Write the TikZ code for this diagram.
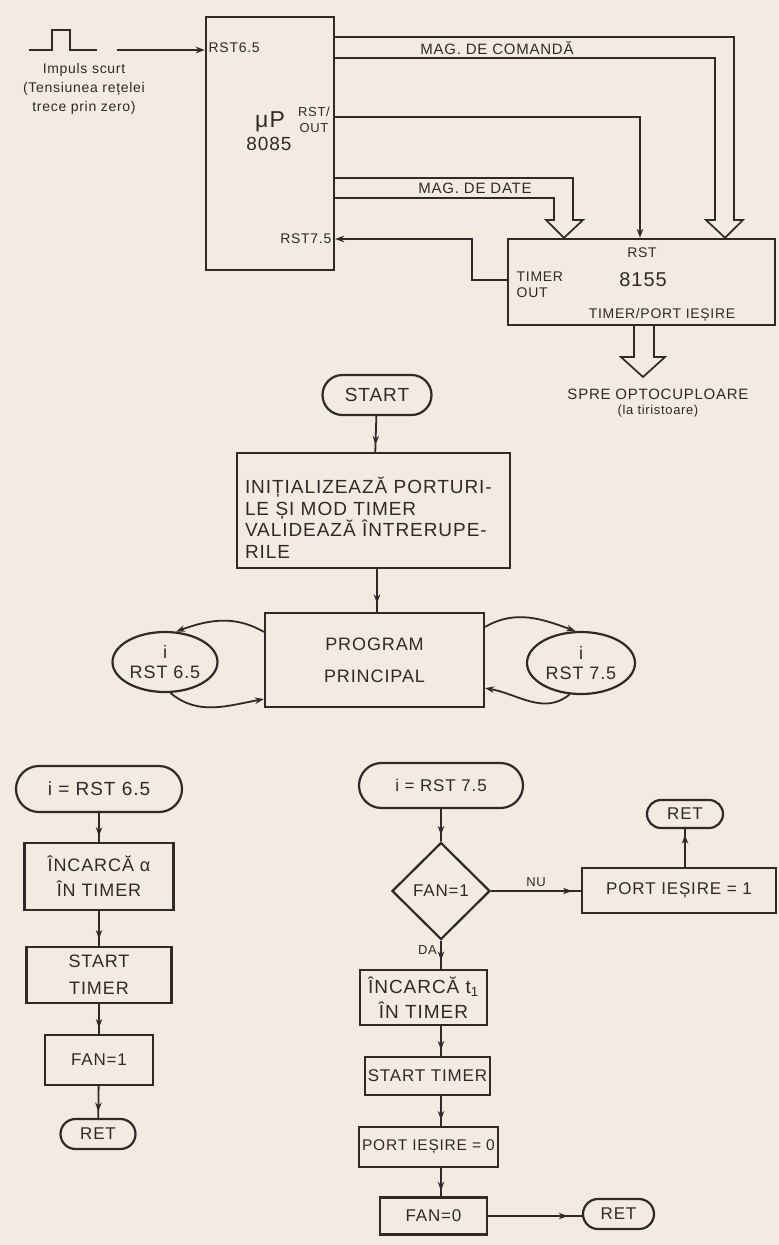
\documentclass[tikz,border=0pt]{standalone}
\usepackage{fontspec}
\setsansfont{Liberation Sans}[LetterSpace=5]
\usetikzlibrary{arrows.meta,shapes.geometric,shapes.misc,decorations.markings,calc}
\definecolor{ink}{RGB}{48,41,39}
\definecolor{paper}{RGB}{243,234,225}
\newcommand{\flowsize}[2]{\sffamily\fontsize{#1}{#2}\selectfont}
\tikzset{
  box/.style={draw, rectangle, line width=2.2pt, inner sep=3pt, align=center, font={\flowsize{17}{21}}},
  term/.style={draw, rounded rectangle, line width=2.2pt, inner sep=3pt, align=center, font={\flowsize{17}{21}}},
  decision/.style={draw, diamond, line width=2.2pt, inner sep=0pt, align=center, font={\flowsize{17}{21}}},
  irq/.style={draw, ellipse, line width=2.2pt, inner sep=0pt, align=center, font={\flowsize{18}{20}}},
  pinlbl/.style={inner sep=3pt, align=center, font={\flowsize{14}{16}}},
  bus/.style={line width=1.7pt, line join=miter},
  flow/.style={line width=1.8pt, postaction={decorate},
    decoration={markings, mark=at position #1 with {\arrow{Stealth[length=9pt,width=6.5pt]}}}},
  flow/.default=0.8
}

\begin{document}
\begin{tikzpicture}[x=1pt,y=-1pt,color=ink,line width=1.8pt,>={Stealth[length=9pt,width=6.5pt]}]
  % paper
  \fill[paper] (0,0) rectangle (779,1245);
  \useasboundingbox (0,0) rectangle (779,1245);

  % microprocessor and 8155
  \node[draw,line width=2.4pt,minimum width=128pt,minimum height=253pt] (mup) at (270,143.5) {};
  \node[draw,line width=2.4pt,minimum width=267pt,minimum height=86pt] (tio) at (641.5,282) {};
  \node[pinlbl,anchor=west] (pinsix) at (mup.west |- 0,48) {RST6.5};
  \node[pinlbl,anchor=east] (pinseven) at (mup.east |- 0,239) {RST7.5};
  \node[pinlbl,font={\flowsize{13}{16}}] (pinout) at (314,120) {RST/\\OUT};
  \node[font={\flowsize{23}{26}}] (mupname) at (270,122) {μP};
  \node[font={\flowsize{19}{22}}] (muptype) at (269,144) {8085};
  \node[pinlbl] (rsttio) at (642,253) {RST};
  \node[font={\flowsize{20}{24}}] (tiotype) at (643,280) {8155};
  \node[pinlbl,anchor=west,align=left,xshift=6pt] (timerout) at (tio.west |- 0,285) {TIMER\\OUT};
  \node[pinlbl] (tiorole) at (662,315) {TIMER/PORT IEȘIRE};

  % input pulse
  \draw[line width=2pt] (29,50) -- (52,50) -- (52,30) -- (70,30) -- (70,50) -- (97,50);
  \node[font={\flowsize{14}{19}},align=center] (pulsetxt) at (84,89) {Impuls scurt\\(Tensiunea rețelei\\trece prin zero)};
  \coordinate (pulse) at (117,50);
  \draw[->] (pulse) -- (mup.west |- pulse);

  % buses
  \draw[bus] (mup.east |- 0,37) -- (734,37) -- (734,220) -- (743,220) -- (tio.north -| 725,0)
    -- (706,220) -- (715,220) -- (715,58) -- (mup.east |- 0,58);
  \node[pinlbl,font={\flowsize{15}{18}}] (cmdbus) at (497,48) {MAG. DE COMANDĂ};
  \draw[bus] (mup.east |- 0,178) -- (573,178) -- (573,220) -- (583,220) -- (tio.north -| 564,0)
    -- (546,220) -- (554,220) -- (554,198) -- (mup.east |- 0,198);
  \node[pinlbl,font={\flowsize{15}{18}}] (databus) at (475,188) {MAG. DE DATE};
  \draw[->,line width=2.6pt] (mup.east |- 0,117) -| (tio.north -| 640,0);
  \draw[->,line width=2.4pt] (tio.west |- 0,280) -- (472,280) -- (472,239) -- (mup.east |- 0,239);

  % output bus
  \draw[bus] (tio.south -| 634,0) -- (634,357) -- (621,357) -- (643,377) -- (665,357) -- (654,357) -- (tio.south -| 654,0);
  \node[pinlbl,font={\flowsize{15}{18}}] (opto) at (658,394) {SPRE OPTOCUPLOARE};
  \node[pinlbl,font={\flowsize{13}{16}}] (tiristor) at (658,411) {(la tiristoare)};

  % main program
  \node[term,font={\flowsize{19}{22}},minimum width=115pt,minimum height=40pt] (start) at (377,395) {START};
  \node[box,font={\flowsize{19}{21.5}},align=left,inner xsep=8pt,text width=257pt,minimum height=115pt] (init) at (373.5,510.5)
    {\rule{0pt}{31pt}INIȚIALIZEAZĂ PORTURI-\\LE ȘI MOD TIMER\\VALIDEAZĂ ÎNTRERUPE-\\RILE};
  \node[box,font={\flowsize{18}{21}},minimum width=219pt,minimum height=94pt] (prog) at (374.5,660) {PROGRAM\\[11pt]PRINCIPAL};
  \node[irq,minimum width=105pt,minimum height=60pt] (rstsix) at (165,662) {i\\RST 6.5};
  \node[irq,minimum width=108pt,minimum height=62pt] (rstseven) at (581,663) {i\\RST 7.5};
  \draw[flow] (start) -- (init);
  \draw[flow] (init.south -| start) -- (prog.north -| start);

  % interrupt loops
  \draw[->] ([yshift=-20pt]prog.north west) to[out=150,in=20] (rstsix.70);
  \draw[->] (rstsix.-80) to[out=-40,in=190] ([yshift=9pt]prog.south west);
  \draw[->] ([yshift=-15pt]prog.north east) to[out=30,in=160] (rstseven.100);
  \draw[->] (rstseven.-110) to[out=-140,in=-10] ([yshift=20pt]prog.south east);

  % rst 6.5 routine
  \node[term,font={\flowsize{19}{22}},minimum width=172pt,minimum height=46pt] (isix) at (99,789) {i = RST 6.5};
  \node[box,font={\flowsize{18}{25}},minimum width=149pt,minimum height=67pt] (loadalpha) at (99,876.5) {ÎNCARCĂ α\\ÎN TIMER};
  \node[box,font={\flowsize{18}{27}},minimum width=145pt,minimum height=56pt] (startsix) at (99,975) {START\\TIMER};
  \node[box,minimum width=108pt,minimum height=50pt] (fansix) at (99,1060) {FAN=1};
  \node[term,minimum width=81pt,minimum height=30pt] (retsix) at (98,1134) {RET};
  \draw[flow] (isix) -- (loadalpha);
  \draw[flow] (loadalpha) -- (startsix);
  \draw[flow] (startsix) -- (fansix);
  \draw[flow] (fansix) -- (retsix);

  % rst 7.5 routine
  \node[term,minimum width=170pt,minimum height=45pt] (iseven) at (441,785.5) {i = RST 7.5};
  \node[decision,minimum width=98pt,minimum height=97pt] (fantest) at (441,891) {FAN=1};
  \node[box,minimum width=194pt,minimum height=45pt] (portone) at (679,890.5) {PORT IEȘIRE = 1};
  \node[term,minimum width=82pt,minimum height=28pt] (rettop) at (685,814) {RET};
  \node[box,font={\flowsize{19}{25}},minimum width=127pt,minimum height=55pt] (loadt) at (423.5,997.5) {ÎNCARCĂ t\textsubscript{1}\\ÎN TIMER};
  \node[box,minimum width=125pt,minimum height=38pt] (starttwo) at (427.5,1076) {START TIMER};
  \node[box,font={\flowsize{15.5}{19}},minimum width=133pt,minimum height=40pt] (portzero) at (428.5,1147) {PORT IEȘIRE = 0};
  \node[box,minimum width=107pt,minimum height=37pt] (fanzero) at (433.5,1216) {FAN=0};
  \node[term,minimum width=77pt,minimum height=30pt] (retzero) at (618.5,1214) {RET};
  \draw[flow] (iseven) -- (fantest);
  \draw[flow=0.9] (fantest.east) -- (fantest.east -| portone.west)
    node[midway,above,font={\flowsize{13}{15}}] (nu) {NU};
  \draw[flow=0.85] (rettop.south |- portone.north) -- (rettop.south);
  \draw[flow=0.7] (fantest.south) -- (fantest.south |- loadt.north)
    node[pos=0.35,left,font={\flowsize{13}{15}}] (da) {DA};
  \draw[flow] (fantest.south |- loadt.south) -- (fantest.south |- starttwo.north);
  \draw[flow] (fantest.south |- starttwo.south) -- (fantest.south |- portzero.north);
  \draw[flow] (fantest.south |- portzero.south) -- (fantest.south |- fanzero.north);
  \draw[flow=0.85] (fanzero.east) -- (fanzero.east -| retzero.west);
\end{tikzpicture}
\end{document}
